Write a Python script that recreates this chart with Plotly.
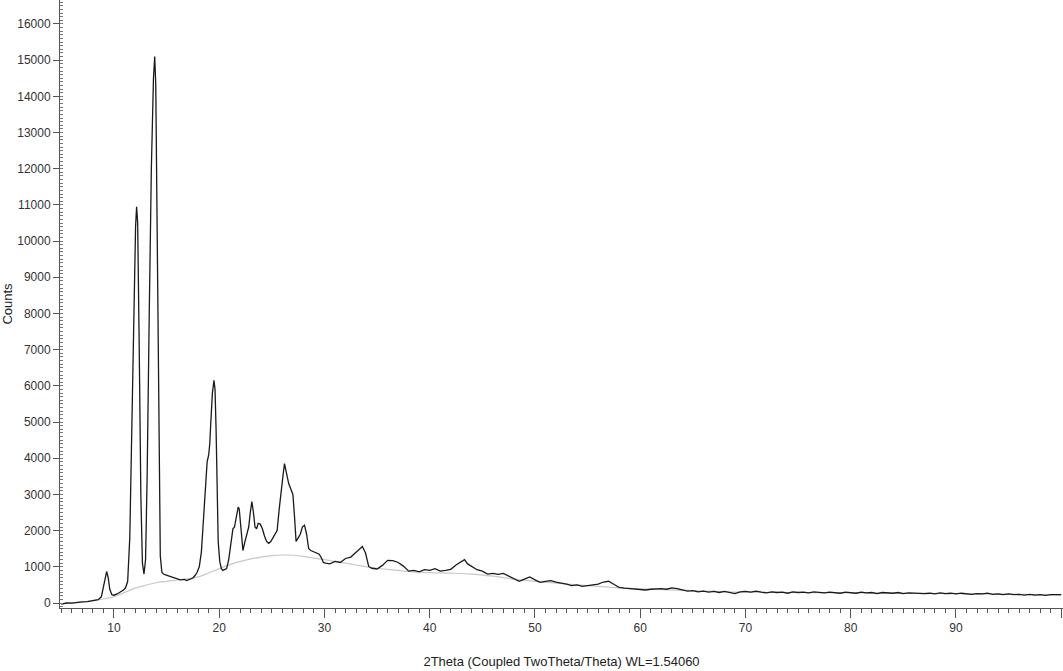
import plotly.graph_objects as go

# ---- measured pattern (2Theta in degrees, intensity in counts) ----
two_theta = [
    5.0, 5.5, 6.0, 6.5, 7.0, 7.5, 8.0, 8.5, 8.8, 9.0, 9.15, 9.3, 9.45, 9.6, 9.8,
    10.0, 10.3, 10.6, 10.9, 11.1, 11.3, 11.5, 11.7, 11.9, 12.05, 12.15, 12.25, 12.4,
    12.55, 12.7, 12.85, 13.0, 13.15, 13.35, 13.55, 13.75, 13.87, 13.97, 14.1, 14.25,
    14.4, 14.55, 14.7, 14.9, 15.1, 15.3, 15.5, 15.7, 15.9, 16.1, 16.3, 16.5, 16.7,
    16.9, 17.1, 17.3, 17.5, 17.7, 17.9, 18.1, 18.3, 18.5, 18.7, 18.85, 19.0, 19.1,
    19.2, 19.35, 19.5, 19.6, 19.7, 19.8, 19.9, 20.05, 20.2, 20.35, 20.5, 20.7, 20.9,
    21.1, 21.3, 21.45, 21.6, 21.8, 21.9, 22.05, 22.25, 22.4, 22.6, 22.8, 22.95, 23.1,
    23.25, 23.4, 23.55, 23.7, 23.9, 24.1, 24.3, 24.5, 24.7, 24.9, 25.1, 25.3, 25.5,
    25.7, 25.9, 26.05, 26.2, 26.3, 26.45, 26.6, 26.8, 27.0, 27.15, 27.3, 27.5, 27.7,
    27.9, 28.1, 28.3, 28.5, 28.7, 28.9, 29.1, 29.3, 29.5, 29.7, 29.9, 30.1,
    30.5, 31.0, 31.5, 32.0, 32.5, 33.0, 33.3, 33.6, 33.9, 34.2, 34.5, 35.0, 35.5,
    36.0, 36.5, 37.0, 37.5, 38.0, 38.5, 39.0, 39.5, 40.0, 40.5, 41.0, 41.5, 42.0,
    42.5, 43.0, 43.3, 43.6, 44.0, 44.5, 45.0, 45.5, 46.0, 46.5, 47.0, 47.5, 48.0,
    48.5, 49.0, 49.5, 50.0, 50.5, 51.0, 51.5, 52.0, 52.5, 53.0, 53.5, 54.0, 54.5,
    55.0, 55.5, 56.0, 56.5, 57.0, 57.5, 58.0, 58.5, 59.0, 59.5, 60.0, 60.5, 61.0,
    61.5, 62.0, 62.5, 63.0, 63.5, 64.0, 64.5, 65.0, 65.5, 66.0, 66.5, 67.0, 67.5,
    68.0, 68.5, 69.0, 69.5, 70.0, 70.5, 71.0, 71.5, 72.0, 72.5, 73.0, 73.5, 74.0,
    74.5, 75.0, 75.5, 76.0, 76.5, 77.0, 77.5, 78.0, 78.5, 79.0, 79.5, 80.0, 80.5,
    81.0, 81.5, 82.0, 82.5, 83.0, 83.5, 84.0, 84.5, 85.0, 85.5, 86.0, 86.5, 87.0,
    87.5, 88.0, 88.5, 89.0, 89.5, 90.0, 90.5, 91.0, 91.5, 92.0, 92.5, 93.0, 93.5,
    94.0, 94.5, 95.0, 95.5, 96.0, 96.5, 97.0, 97.5, 98.0, 98.5, 99.0, 99.5, 100.0,
]
counts = [
    -30, 0, -5, 20, 30, 40, 60, 90, 170, 450, 750, 870, 700, 380, 230,
    215, 250, 300, 360, 420, 600, 1800, 5000, 8500, 10400, 10950, 10500, 7000,
    3000, 1100, 800, 1200, 3500, 8000, 12000, 14500, 15100, 14300, 10000, 4500,
    1300, 850, 800, 780, 760, 740, 720, 700, 690, 660, 640, 645, 650,
    620, 640, 660, 690, 760, 850, 1000, 1400, 2300, 3400, 3900, 4100, 4400,
    5000, 5800, 6150, 5900, 4800, 3000, 1700, 1150, 950, 900, 920, 950, 1200,
    1700, 2050, 2100, 2300, 2650, 2600, 2100, 1450, 1650, 1850, 2100, 2500, 2800,
    2500, 2100, 2050, 2200, 2180, 2050, 1850, 1700, 1650, 1700, 1800, 1900, 2000,
    2600, 3200, 3500, 3850, 3700, 3450, 3300, 3150, 3000, 2400, 1700, 1800, 1900,
    2100, 2150, 1900, 1500, 1450, 1420, 1400, 1380, 1350, 1250, 1120, 1100,
    1080, 1150, 1120, 1230, 1270, 1400, 1480, 1560, 1380, 1010, 960, 940, 1040,
    1180, 1170, 1120, 1020, 880, 900, 860, 920, 900, 950, 880, 900, 930,
    1050, 1150, 1200, 1080, 1000, 920, 880, 800, 820, 790, 820, 740, 680,
    600, 660, 720, 640, 570, 600, 620, 580, 560, 520, 480, 500, 460,
    470, 500, 520, 580, 600, 520, 430, 410, 400, 380, 370, 360, 380,
    390, 400, 380, 420, 400, 360, 330, 340, 310, 330, 300, 320, 290,
    320, 300, 260, 310, 320, 300, 330, 300, 280, 310, 290, 300, 270,
    310, 290, 300, 280, 310, 300, 280, 300, 290, 270, 300, 290, 270,
    300, 280, 290, 260, 290, 280, 270, 290, 260, 280, 270, 280, 260,
    270, 250, 280, 260, 270, 250, 270, 260, 240, 260, 250, 270, 240,
    250, 230, 250, 230, 240, 220, 240, 220, 230, 210, 230, 220, 230,
]

# ---- fitted background (grey) ----
bg_theta = [5, 6, 7, 8, 9, 10, 11, 12, 13, 14, 15, 16, 17, 18, 19, 20, 21, 22, 23,
            24, 25, 26, 27, 28, 29, 30, 31, 32, 33, 34, 35, 36, 37, 38, 39, 40, 42,
            44, 46, 48, 50, 52, 55, 58, 60, 65, 70, 80, 90, 100]
bg_counts = [-20, 10, 35, 70, 110, 175, 290, 410, 490, 560, 600, 635, 670, 720, 830,
             950, 1060, 1150, 1220, 1270, 1310, 1326, 1320, 1290, 1240, 1200, 1150,
             1100, 1050, 1000, 960, 930, 900, 870, 850, 838, 825, 800, 740, 660, 600,
             550, 480, 420, 390, 340, 300, 280, 260, 220]

x_title = "2Theta (Coupled TwoTheta/Theta) WL=1.54060"
y_title = "Counts"

fig = go.Figure()
fig.add_trace(go.Scatter(x=bg_theta, y=bg_counts, mode="lines",
                         line=dict(color="#c8c8c8", width=1.2, shape="spline"),
                         hoverinfo="skip", showlegend=False))
fig.add_trace(go.Scatter(x=two_theta, y=counts, mode="lines",
                         line=dict(color="#1a1a1a", width=1.3),
                         showlegend=False))

axis_font = dict(family="Liberation Sans, Arial, sans-serif", size=12, color="#333333")

fig.update_layout(
    width=1063, height=671,
    margin=dict(l=60, r=0, t=0, b=63),
    paper_bgcolor="white", plot_bgcolor="white",
    font=axis_font,
    xaxis=dict(
        range=[4.87, 100.17], tickmode="linear", tick0=0, dtick=10,
        automargin=False,
        ticks="outside", ticklen=9, tickwidth=1, tickcolor="#555555",
        showline=True, linecolor="#555555", linewidth=1,
        showgrid=False, zeroline=False,
        tickfont=dict(size=12, color="#333333"),
        minor=dict(ticks="outside", dtick=1, ticklen=4, tickcolor="#555555", showgrid=False),
        title=dict(text=x_title, font=dict(size=13, color="#222222"), standoff=22),
    ),
    yaxis=dict(
        range=[-138, 16662], tickmode="linear", tick0=0, dtick=1000,
        tickformat="d", automargin=False,
        ticks="outside", ticklen=6, tickwidth=1, tickcolor="#555555",
        showline=True, linecolor="#555555", linewidth=1,
        showgrid=False, zeroline=False,
        tickfont=dict(size=12, color="#333333"),
        minor=dict(ticks="inside", dtick=100, ticklen=3, tickcolor="#777777", showgrid=False),
        title=dict(text=y_title, font=dict(size=13, color="#222222"), standoff=4),
    ),
)

fig.write_html("out.html", config={"displayModeBar": False},
               post_script="document.body.style.margin='0';")
